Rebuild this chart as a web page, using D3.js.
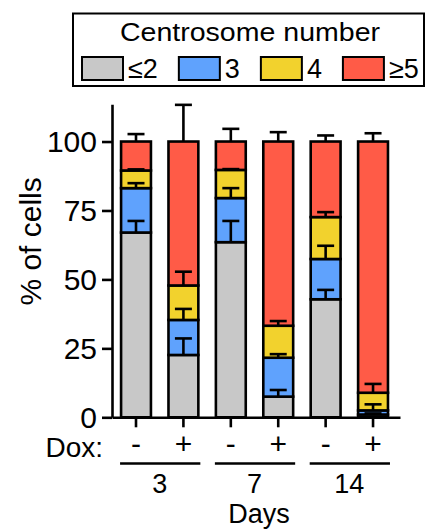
<!DOCTYPE html>
<html>
<head>
<meta charset="utf-8">
<script src="https://cdn.jsdelivr.net/npm/d3@7"></script>
<style>
  body { margin: 0; background: #fff; }
  svg { display: block; font-family: "Liberation Sans", Arial, sans-serif; }
</style>
</head>
<body>
<svg id="chart" width="429" height="529"></svg>
<script>
// categories
const groups = ['3', '7', '14'];
const dox = ['-', '+', '-', '+', '-', '+'];
const keys = ['le2', 'c3', 'c4', 'ge5'];
const legendLabels = ['≤2', '3', '4', '≥5'];
const colors = ['#c8c8c8', '#5fa2fd', '#f2d22d', '#ff5b47'];
const yTicks = [0, 25, 50, 75, 100];

// % of cells per segment (bottom to top), one value per bar
const le2 = [67.0, 22.6, 63.5, 7.5, 42.8, 1.0];
const c3 = [16.1, 12.7, 16.0, 14.1, 14.6, 1.5];
const c4 = [6.4, 12.5, 10.2, 11.6, 15.2, 6.4];
const ge5 = [10.5, 52.2, 10.3, 66.8, 27.4, 91.1];

// SD error bars (upward) per segment
const le2Err = [4.2, 6.0, 7.7, 2.4, 3.4, 0.4];
const c3Err = [1.8, 4.0, 3.6, 1.3, 4.8, 2.2];
const c4Err = [0.4, 5.0, 0.3, 1.7, 1.8, 3.2];
const ge5Err = [2.7, 13.3, 4.6, 3.4, 2.2, 3.0];

const values = [le2, c3, c4, ge5];
const errs = [le2Err, c3Err, c4Err, ge5Err];

const data = dox.map((d, i) => {
  const row = { id: i, dox: d };
  keys.forEach((k, j) => { row[k] = values[j][i]; });
  return row;
});

const svg = d3.select('#chart');

const x = d3.scaleBand()
  .domain(data.map((d) => d.id))
  .range([112, 400])
  .paddingInner(0.37)
  .paddingOuter(0.2225)
  .align(0.43);

const y = d3.scaleLinear()
  .domain([0, 113.5])
  .range([417.3, 104.3]);

const stack = d3.stack().keys(keys)(data);

// bars
svg.append('g')
  .selectAll('g')
  .data(stack)
  .join('g')
  .attr('fill', (d, i) => colors[i])
  .selectAll('rect')
  .data((d) => d)
  .join('rect')
  .attr('x', (d) => x(d.data.id))
  .attr('y', (d) => y(d[1]))
  .attr('width', x.bandwidth())
  .attr('height', (d) => y(d[0]) - y(d[1]))
  .attr('stroke', '#000')
  .attr('stroke-width', 2.6);

// error bars
const errData = [];
stack.forEach((s, j) => {
  s.forEach((d, i) => {
    errData.push({ cx: x(d.data.id) + x.bandwidth() / 2, top: d[1], err: errs[j][i] });
  });
});

const eb = svg.append('g')
  .attr('stroke', '#000')
  .attr('stroke-width', 2.6);

eb.selectAll('line.stem')
  .data(errData)
  .join('line')
  .attr('class', 'stem')
  .attr('x1', (d) => d.cx)
  .attr('x2', (d) => d.cx)
  .attr('y1', (d) => y(d.top))
  .attr('y2', (d) => y(d.top + d.err));

eb.selectAll('line.cap')
  .data(errData)
  .join('line')
  .attr('class', 'cap')
  .attr('x1', (d) => d.cx - 8.5)
  .attr('x2', (d) => d.cx + 8.5)
  .attr('y1', (d) => y(d.top + d.err))
  .attr('y2', (d) => y(d.top + d.err));

// axes
const yAxis = svg.append('g')
  .attr('transform', 'translate(112,0)')
  .call(d3.axisLeft(y).tickValues(yTicks).tickSize(10).tickSizeOuter(0).tickPadding(5));

const xAxis = svg.append('g')
  .attr('transform', `translate(0,${y(0)})`)
  .call(d3.axisBottom(x).tickSize(10).tickSizeOuter(0).tickFormat(''));

[yAxis, xAxis].forEach((a) => {
  a.selectAll('path, line').attr('stroke', '#000').attr('stroke-width', 2.6);
});
yAxis.selectAll('text')
  .attr('fill', '#000')
  .style('font-size', '30px')
  .attr('dy', '0.34em');

svg.append('text')
  .attr('transform', `translate(41,${(y(0) + y(100)) / 2 - 38}) rotate(-90)`)
  .attr('text-anchor', 'middle')
  .style('font-size', '30px')
  .text('% of cells');

// Dox row
svg.append('text')
  .attr('x', 103)
  .attr('y', 457)
  .attr('text-anchor', 'end')
  .style('font-size', '28px')
  .text('Dox:');

svg.append('g')
  .selectAll('text')
  .data(data)
  .join('text')
  .attr('x', (d) => x(d.id) + x.bandwidth() / 2)
  .attr('y', 454)
  .attr('text-anchor', 'middle')
  .style('font-size', '30px')
  .text((d) => d.dox);

// day groups
const dayG = svg.append('g')
  .selectAll('g')
  .data(groups)
  .join('g');

dayG.append('line')
  .attr('x1', (d, i) => x(i * 2) - 1)
  .attr('x2', (d, i) => x(i * 2 + 1) + x.bandwidth() + 2)
  .attr('y1', 463.5)
  .attr('y2', 463.5)
  .attr('stroke', '#000')
  .attr('stroke-width', 2.4);

dayG.append('text')
  .attr('x', (d, i) => (x(i * 2) + x(i * 2 + 1) + x.bandwidth()) / 2)
  .attr('y', 493)
  .attr('text-anchor', 'middle')
  .style('font-size', '27px')
  .text((d) => d);

svg.append('text')
  .attr('x', 259)
  .attr('y', 522.5)
  .attr('text-anchor', 'middle')
  .style('font-size', '27px')
  .text('Days');

// legend
const legend = svg.append('g');
legend.append('rect')
  .attr('x', 73)
  .attr('y', 13.5)
  .attr('width', 351)
  .attr('height', 72.5)
  .attr('fill', '#fff')
  .attr('stroke', '#000')
  .attr('stroke-width', 2);

legend.append('text')
  .attr('x', 250)
  .attr('y', 40.7)
  .attr('text-anchor', 'middle')
  .attr('textLength', 260)
  .attr('lengthAdjust', 'spacingAndGlyphs')
  .style('font-size', '25px')
  .text('Centrosome number');

let lx = 82;
legendLabels.forEach((lab, i) => {
  legend.append('rect')
    .attr('x', lx)
    .attr('y', 57)
    .attr('width', 41)
    .attr('height', 23)
    .attr('fill', colors[i])
    .attr('stroke', '#000')
    .attr('stroke-width', 2);
  const t = legend.append('text')
    .attr('x', lx + 46)
    .attr('y', 78.3)
    .style('font-size', '27px')
    .text(lab);
  lx += 46 + t.node().getComputedTextLength() + 21;
});
</script>
</body>
</html>
